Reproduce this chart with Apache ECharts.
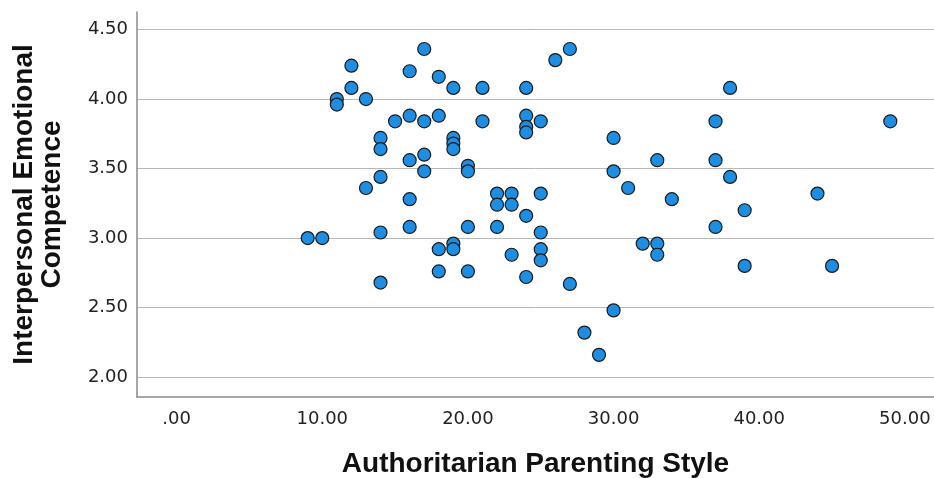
<!DOCTYPE html>
<html>
<head>
<meta charset="utf-8">
<title>Authoritarian Parenting Style vs Interpersonal Emotional Competence</title>
<script src="https://cdn.jsdelivr.net/npm/echarts@6/dist/echarts.min.js"></script>
<style>
  html, body { margin: 0; padding: 0; background: #ffffff; }
  #chart { width: 934px; height: 478px; }
</style>
</head>
<body>
<div id="chart"></div>
<script>
// Authoritarian parenting score of each respondent
const parentingScores = [
  9, 10,
  11, 11, 12, 12, 13, 13,
  14, 14, 14, 14, 14, 15,
  16, 16, 16, 16, 16,
  17, 17, 17, 17,
  18, 18, 18, 18,
  19, 19, 19, 19, 19, 19,
  20, 20, 20, 20, 21, 21,
  22, 22, 22, 23, 23, 23,
  24, 24, 24, 24, 24, 24,
  25, 25, 25, 25, 25,
  26, 27, 27, 28, 29,
  30, 30, 30, 31, 32,
  33, 33, 33, 34,
  37, 37, 37, 38, 38, 39, 39,
  44, 45, 49
];

// Interpersonal emotional competence of the same respondents
const competenceScores = [
  3.00, 3.00,
  4.00, 3.96, 4.24, 4.08, 4.00, 3.36,
  3.72, 3.64, 3.44, 3.04, 2.68, 3.84,
  4.20, 3.88, 3.56, 3.28, 3.08,
  4.36, 3.84, 3.60, 3.48,
  4.16, 3.88, 2.92, 2.76,
  4.08, 3.72, 3.68, 3.64, 2.96, 2.92,
  3.52, 3.48, 3.08, 2.76, 4.08, 3.84,
  3.32, 3.24, 3.08, 3.32, 3.24, 2.88,
  4.08, 3.88, 3.80, 3.76, 3.16, 2.72,
  3.84, 3.32, 3.04, 2.92, 2.84,
  4.28, 4.36, 2.67, 2.32, 2.16,
  3.72, 3.48, 2.48, 3.36, 2.96,
  3.56, 2.96, 2.88, 3.28,
  3.84, 3.56, 3.08, 4.08, 3.44, 3.20, 2.80,
  3.32, 2.80, 3.84
];

// Tick positions on each axis
const xTicks = [0, 10, 20, 30, 40, 50];
const yTicks = [2.0, 2.5, 3.0, 3.5, 4.0, 4.5];

const xTitle = 'Authoritarian Parenting Style';
const yTitle = 'Interpersonal Emotional\nCompetence';

const points = parentingScores.map((x, i) => [x, competenceScores[i]]);

const tickFont = {
  fontFamily: 'DejaVu Sans',
  fontSize: 18,
  color: '#222222'
};
const titleFont = {
  fontFamily: 'Liberation Sans',
  fontWeight: 'bold',
  fontSize: 28,
  color: '#111111'
};

const chart = echarts.init(document.getElementById('chart'), null, { renderer: 'canvas' });

chart.setOption({
  animation: false,
  backgroundColor: '#ffffff',
  grid: {
    left: 137, right: 0, top: 12, bottom: 81,
    containLabel: false,
    outerBoundsMode: 'none'
  },
  xAxis: {
    type: 'value',
    min: -2.72,
    max: 52,
    name: xTitle,
    nameLocation: 'middle',
    nameGap: 53,
    nameTextStyle: titleFont,
    axisLine: { show: true, onZero: false, lineStyle: { color: '#8a8a8a', width: 1.5 } },
    axisTick: { show: false, customValues: xTicks },
    splitLine: { show: false },
    axisLabel: Object.assign({
      customValues: xTicks,
      margin: 13,
      formatter: v => (v === 0 ? '.00' : v.toFixed(2))
    }, tickFont)
  },
  yAxis: {
    type: 'value',
    min: 1.857,
    max: 4.626,
    name: yTitle,
    nameLocation: 'middle',
    nameRotate: 90,
    nameGap: 71,
    nameTextStyle: Object.assign({ lineHeight: 28 }, titleFont),
    axisLine: { show: true, onZero: false, lineStyle: { color: '#8a8a8a', width: 1.5 } },
    axisTick: { show: false, customValues: yTicks },
    splitLine: { show: true, lineStyle: { color: '#b8b8b8', width: 1 } },
    axisLabel: Object.assign({
      customValues: yTicks,
      margin: 9,
      formatter: v => v.toFixed(2)
    }, tickFont)
  },
  series: [{
    type: 'scatter',
    data: points,
    symbol: 'circle',
    symbolSize: 13,
    itemStyle: {
      color: '#1e8ee3',
      borderColor: '#1a1a1a',
      borderWidth: 1.2,
      opacity: 1
    },
    emphasis: { disabled: true }
  }]
});
</script>
</body>
</html>
